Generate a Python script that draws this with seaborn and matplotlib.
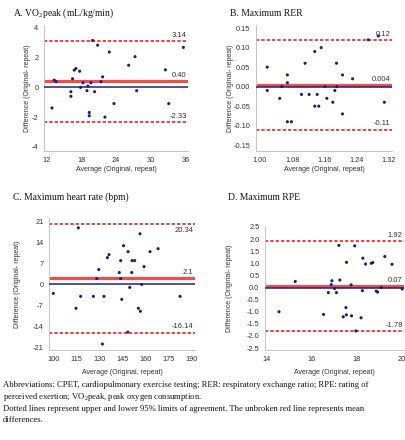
import numpy as np
import pandas as pd
import matplotlib
matplotlib.use("Agg")
import matplotlib.pyplot as plt
import seaborn as sns

# ---------------- data ----------------
# Panel A: VO2peak
a_avg = [12.87, 13.27, 13.62, 16.16, 16.16, 16.45, 16.74, 17.03, 17.67, 17.84,
         18.25, 18.94, 19.11, 19.34, 19.34, 19.63, 19.92, 20.27, 20.79, 21.37,
         21.66, 22.06, 22.81, 23.62, 26.17, 27.27, 27.55, 32.53, 33.11, 35.65]
a_diff = [-1.38, 0.49, 0.38, -0.29, -0.60, 0.58, 1.16, 1.27, 1.09, 0.00,
          0.31, -0.22, 0.09, -1.69, -1.91, 0.31, 3.16, -0.29, 2.84, 0.38,
          0.71, -2.00, 2.38, -1.09, 1.49, 2.07, -0.22, 1.18, -1.09, 2.69]
a_lines = [3.14, 0.40, -2.33]
a_labels = ["3.14", "0.40", "-2.33"]

# Panel B: Maximum RER
b_avg = [1.018, 1.018, 1.049, 1.054, 1.068, 1.068, 1.068, 1.078, 1.103, 1.112,
         1.122, 1.136, 1.136, 1.142, 1.146, 1.152, 1.161, 1.166, 1.181, 1.186,
         1.190, 1.191, 1.205, 1.205, 1.230, 1.269, 1.294, 1.309]
b_diff = [0.05, -0.01, -0.03, 0.00, 0.03, 0.01, -0.09, -0.09, -0.02, 0.06,
          -0.02, 0.09, -0.05, -0.02, -0.05, 0.10, 0.00, -0.03, -0.04, -0.01,
          0.06, 0.00, 0.03, -0.07, 0.02, 0.12, 0.13, -0.04]
b_lines = [0.12, 0.004, -0.11]
b_labels = ["0.12", "0.004", "-0.11"]

# Panel C: Maximum heart rate
c_avg = [100.0, 114.8, 116.3, 117.8, 126.1, 128.3, 129.6, 133.0, 135.2, 136.3,
         132.0, 143.0, 143.9, 143.9, 144.6, 145.7, 148.5, 148.7, 149.8, 151.1,
         151.3, 153.0, 155.4, 156.5, 156.7, 157.6, 159.1, 163.0, 168.3, 182.6]
c_diff = [-3, -8, 19, -4, -4, 2, 5, -4, 9, 10,
          -20, 4, 8, 2, -5, 13, -16, 11, -1, 4,
          8, 8, -8, 17, -9, 0, 6, 11, 12, -4]
c_lines = [20.34, 2.1, -16.14]
c_labels = ["20.34", "2.1", "-16.14"]

# Panel D: Maximum RPE
d_avg = [14.57, 15.29, 16.54, 16.75, 16.88, 16.91, 17.03, 17.11, 17.22, 17.26,
         17.41, 17.53, 17.55, 17.56, 17.76, 17.78, 17.92, 17.97, 18.20, 18.26,
         18.28, 18.40, 18.65, 18.72, 18.87, 18.93, 19.09, 19.25, 19.57, 20.02]
d_diff = [-1.00, 0.25, -1.11, -0.21, 0.12, 0.28, -0.04, -0.21, 1.74, 0.31,
          -1.21, -0.83, -1.13, 1.04, 0.11, -1.17, 1.72, -1.79, -1.25, -0.13,
          1.21, 0.97, 1.00, 1.03, -0.15, -0.19, 0.00, 1.28, 0.96, -0.06]
d_lines = [1.92, 0.07, -1.78]
d_labels = ["1.92", "0.07", "-1.78"]

titles = ["A. VO$_\\mathrm{2}$peak (mL/kg/min)", "B. Maximum RER",
          "C. Maximum heart rate (bpm)", "D. Maximum RPE"]

a_xticks = [12, 18, 24, 30, 36]
a_yticks = [-4, -2, 0, 2, 4]
b_xticks = [1.00, 1.08, 1.16, 1.24, 1.32]
b_xticklabels = ["1.00", "1.08", "1.16", "1.24", "1.32"]
b_yticks = [-0.15, -0.10, -0.05, 0.00, 0.05, 0.10, 0.15]
b_yticklabels = ["-0.15", "-0.10", "-0.05", "0.00", "0.05", "0.10", "0.15"]
c_xticks = [100, 115, 130, 145, 160, 175, 190]
c_yticks = [-21, -14, -7, 0, 7, 14, 21]
d_xticks = [14, 16, 18, 20]
d_yticks = [-2.5, -2.0, -1.5, -1.0, -0.5, 0.0, 0.5, 1.0, 1.5, 2.0, 2.5]
d_yticklabels = ["-2.5", "-2.0", "-1.5", "-1.0", "-0.5", "0.0", "0.5", "1.0", "1.5", "2.0", "2.5"]

caption = [
    "Abbreviations: CPET, cardiopulmonary exercise testing; RER: respiratory exchange ratio; RPE: rating of",
    "perceived exertion; VO$_\\mathrm{2}$peak, peak oxygen consumption.",
    "Dotted lines represent upper and lower 95% limits of agreement. The unbroken red line represents mean",
    "differences.",
]

# ---------------- style ----------------
sns.set_style("white")
plt.rcParams['font.family'] = ['Liberation Sans', 'DejaVu Sans']
plt.rcParams['mathtext.fontset'] = 'custom'
plt.rcParams['mathtext.rm'] = 'Liberation Serif'
plt.rcParams['mathtext.it'] = 'Liberation Serif:italic'
plt.rcParams['mathtext.bf'] = 'Liberation Serif:bold'

W, H = 406, 440
fig = plt.figure(figsize=(W / 100, H / 100), dpi=100)

def rect(l, t, r, b):
    return [l / W, 1 - b / H, (r - l) / W, (b - t) / H]

PT_COLOR = "#1b1b80"
ZERO_COLOR = "#1f1f8a"
MEAN_COLOR = "#ef4e4a"
LOA_COLOR = "#e22a26"
SPINE = "#c4c4c4"
TXT = "#333333"

panels = [
    dict(rect=rect(44, 25, 188, 151), x=a_avg, y=a_diff, lines=a_lines, labs=a_labels,
         xlim=(11.5, 36.45), ylim=(-4.28, 4.2), xt=a_xticks, xtl=[str(v) for v in a_xticks],
         yt=a_yticks, ytl=[str(v) for v in a_yticks], ylab_x=-0.09, xlab_y=-0.12,
         title=titles[0], tpos=(13, 13), below=[False, False, False]),
    dict(rect=rect(256, 25, 392, 151), x=b_avg, y=b_diff, lines=b_lines, labs=b_labels,
         xlim=(0.990, 1.328), ylim=(-0.165, 0.158), xt=b_xticks, xtl=b_xticklabels,
         yt=b_yticks, ytl=b_yticklabels, ylab_x=-0.16, xlab_y=-0.12,
         title=titles[1], tpos=(230, 13), below=[False, False, False]),
    dict(rect=rect(49, 218, 195, 350), x=c_avg, y=c_diff, lines=c_lines, labs=c_labels,
         xlim=(97.2, 192.3), ylim=(-22.0, 22.3), xt=c_xticks, xtl=[str(v) for v in c_xticks],
         yt=c_yticks, ytl=[str(v) for v in c_yticks], ylab_x=-0.19, xlab_y=-0.145,
         title=titles[2], tpos=(13, 197), below=[True, False, False]),
    dict(rect=rect(265, 226, 404, 350), x=d_avg, y=d_diff, lines=d_lines, labs=d_labels,
         xlim=(13.95, 20.1), ylim=(-2.58, 2.54), xt=d_xticks, xtl=[str(v) for v in d_xticks],
         yt=d_yticks, ytl=d_yticklabels, ylab_x=-0.23, xlab_y=-0.155,
         title=titles[3], tpos=(228, 197), below=[False, False, False]),
]

for p in panels:
    ax = fig.add_axes(p["rect"])
    df = pd.DataFrame({"avg": p["x"], "diff": p["y"]})
    up, mean, lo = p["lines"]
    ax.axhline(mean, color=MEAN_COLOR, lw=2.3, zorder=2)
    ax.axhline(0, color=ZERO_COLOR, lw=1.1, zorder=3)
    ax.axhline(up, color=LOA_COLOR, lw=1.2, ls=(0, (2.0, 1.2)), zorder=2)
    ax.axhline(lo, color=LOA_COLOR, lw=1.2, ls=(0, (2.0, 1.2)), zorder=2)
    sns.scatterplot(data=df, x="avg", y="diff", ax=ax, color=PT_COLOR, s=5,
                    edgecolor="none", linewidth=0, legend=False, zorder=4, clip_on=False)
    ax.set_xlim(*p["xlim"])
    ax.set_ylim(*p["ylim"])
    ax.set_xticks(p["xt"])
    ax.set_xticklabels(p["xtl"])
    ax.set_yticks(p["yt"])
    ax.set_yticklabels(p["ytl"])
    ax.tick_params(axis="both", labelsize=5.3, colors=SPINE, labelcolor=TXT,
                   length=2, width=0.6, pad=2, direction="out")
    for s in ["top", "right"]:
        ax.spines[s].set_visible(False)
    for s in ["left", "bottom"]:
        ax.spines[s].set_color(SPINE)
        ax.spines[s].set_linewidth(0.7)
    ax.set_xlabel("Average (Original, repeat)", fontsize=5.0, color=TXT)
    ax.set_ylabel("Difference (Original- repeat)", fontsize=5.0, color=TXT)
    ax.xaxis.set_label_coords(0.5, p["xlab_y"])
    ax.yaxis.set_label_coords(p["ylab_x"], 0.5)
    for val, lab, bel in zip(p["lines"], p["labs"], p["below"]):
        ax.annotate(lab, xy=(1.0, val), xycoords=("axes fraction", "data"),
                    xytext=(-1, -2 if bel else 1.5), textcoords="offset points",
                    ha="right", va="top" if bel else "bottom", fontsize=5.5, color=TXT)
    tx, ty = p["tpos"]
    fig.text(tx / W, 1 - ty / H, p["title"], fontsize=6.9, family="Liberation Serif",
             ha="left", va="center", color="#111111")

cap_y = [385, 397, 409, 420]
for line, yy in zip(caption, cap_y):
    fig.text(3 / W, 1 - yy / H, line, fontsize=6.2, family="Liberation Serif",
             ha="left", va="center", color="#111111")

fig.savefig("out.png", dpi=100)
